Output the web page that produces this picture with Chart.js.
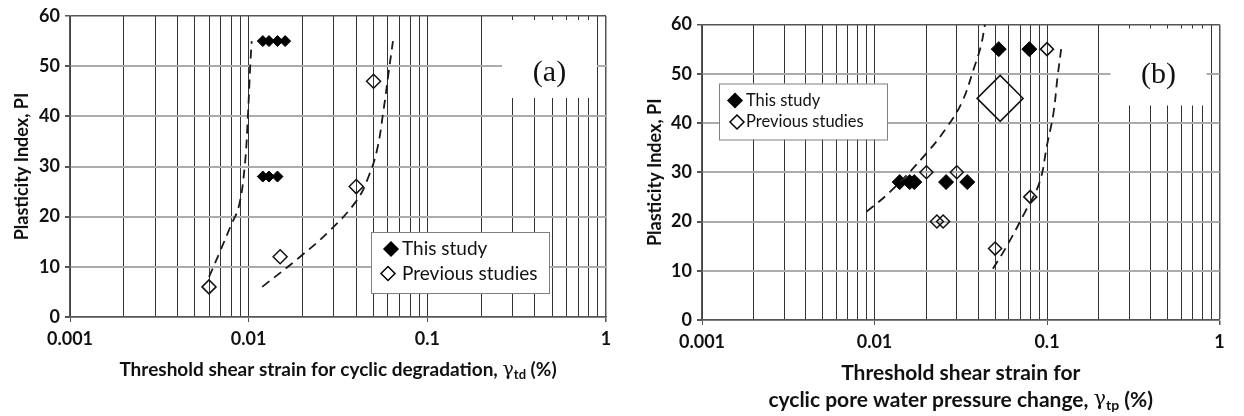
<!DOCTYPE html>
<html>
<head>
<meta charset="utf-8">
<script src="https://cdn.jsdelivr.net/npm/chart.js@4.4.0/dist/chart.umd.min.js"></script>
<style>
  body { margin: 0; background: #fff; width: 1244px; height: 416px; position: relative; overflow: hidden; }
  .panel { position: absolute; top: 0; height: 416px; }
  #pa { left: 0; width: 620px; }
  #pb { left: 620px; width: 624px; }
</style>
</head>
<body>
<div class="panel" id="pa"><canvas id="chartA" width="620" height="416"></canvas></div>
<div class="panel" id="pb"><canvas id="chartB" width="624" height="416"></canvas></div>
<script>
// axis ticks
const xTickLabels = ['0.001', '0.01', '0.1', '1'];
const xDecades = [0.001, 0.01, 0.1];
const xSteps = [1, 2, 3, 4, 5, 6, 7, 8, 9];
const yTicks = [0, 10, 20, 30, 40, 50, 60];

// (a) cyclic degradation
const thisA_x = [0.012, 0.013, 0.0145, 0.016, 0.012, 0.013, 0.0145];
const thisA_y = [55, 55, 55, 55, 28, 28, 28];
const prevA_x = [0.006, 0.015, 0.04, 0.05];
const prevA_y = [6, 12, 26, 47];
const curveA1_x = [0.006, 0.0069, 0.0079, 0.0088, 0.0095, 0.0099, 0.0102, 0.0104];
const curveA1_y = [8, 13, 18, 22, 30, 40, 50, 55];
const curveA2_x = [0.0119, 0.0194, 0.0286, 0.0404, 0.0469, 0.0523, 0.0569, 0.0607, 0.0642];
const curveA2_y = [6, 12, 17.3, 23.3, 28, 33.3, 41.3, 48.7, 55];

// (b) pore water pressure change
const thisB_x = [0.014, 0.016, 0.017, 0.026, 0.0345, 0.0525, 0.079];
const thisB_y = [28, 28, 28, 28, 28, 55, 55];
const prevB_x = [0.02, 0.03, 0.023, 0.025, 0.1, 0.08, 0.05];
const prevB_y = [30, 30, 20, 20, 55, 25, 14.5];
const bigB_x = [0.0535];
const bigB_y = [45];
const curveB1_x = [0.009, 0.0123, 0.0202, 0.0267, 0.0324, 0.0376, 0.0413, 0.0437];
const curveB1_y = [22, 26, 34, 39.5, 44.5, 51, 55.5, 60];
const curveB2_x = [0.0486, 0.0578, 0.0748, 0.0906, 0.1, 0.109, 0.1148, 0.1208];
const curveB2_y = [10.4, 14.7, 22, 28, 35.5, 42, 49, 55];

const legendNames = ['This study', 'Previous studies'];

const xGrid = [];
xDecades.forEach(d => xSteps.forEach(m => xGrid.push(Number((d * m).toPrecision(3)))));
xGrid.push(1);

function pts(xs, ys) {
  return xs.map((x, i) => ({ x: x, y: ys[i] }));
}

function diamond(ctx, x, y, r, filled) {
  ctx.beginPath();
  ctx.moveTo(x - r, y);
  ctx.lineTo(x, y - r);
  ctx.lineTo(x + r, y);
  ctx.lineTo(x, y + r);
  ctx.closePath();
  if (filled) { ctx.fillStyle = '#000'; ctx.fill(); }
  ctx.strokeStyle = '#000';
  ctx.lineWidth = 1.5;
  ctx.stroke();
}

function dashed(data) {
  return {
    data: data, showLine: true, borderColor: '#1a1a1a', borderWidth: 1.8,
    borderDash: [9, 6], pointRadius: 0, tension: 0.4, fill: false
  };
}

function buildChart(id, o) {
  const overlay = {
    id: 'overlay',
    beforeDatasetsDraw(chart) {
      const ctx = chart.ctx, a = chart.chartArea;
      ctx.save();
      // white tag box with (a)/(b)
      const tx = a.right - o.tag.right - o.tag.w;
      const ty = a.top + o.tag.top;
      ctx.fillStyle = '#fff';
      ctx.fillRect(tx, ty, o.tag.w, o.tag.h);
      ctx.fillStyle = '#111';
      ctx.font = '30px "Liberation Serif"';
      ctx.textAlign = 'center';
      ctx.textBaseline = 'middle';
      ctx.fillText(o.tag.text, tx + o.tag.w / 2, ty + o.tag.textY);
      // legend box
      const lx = a.left + o.leg.left, ly = a.top + o.leg.top;
      ctx.fillStyle = '#fff';
      ctx.fillRect(lx, ly, o.leg.w, o.leg.h);
      ctx.strokeStyle = '#808080';
      ctx.lineWidth = 1;
      ctx.strokeRect(lx + 0.5, ly + 0.5, o.leg.w, o.leg.h);
      diamond(ctx, lx + o.leg.mark1, ly + o.leg.row1, o.leg.r, true);
      diamond(ctx, lx + o.leg.mark2, ly + o.leg.row2, o.leg.r, false);
      ctx.fillStyle = '#111';
      ctx.font = o.leg.font;
      ctx.textAlign = 'left';
      ctx.textBaseline = 'middle';
      ctx.fillText(legendNames[0], lx + o.leg.text, ly + o.leg.row1);
      ctx.fillText(legendNames[1], lx + o.leg.text, ly + o.leg.row2);
      ctx.restore();
    },
    afterDraw(chart) {
      const ctx = chart.ctx, a = chart.chartArea;
      const cx = (a.left + a.right) / 2;
      ctx.save();
      ctx.fillStyle = '#111';
      ctx.textBaseline = 'middle';
      ctx.textAlign = 'left';
      o.xTitle.forEach((line, i) => {
        const y = a.bottom + o.xTitleY[i];
        const mainFont = 'bold ' + o.xTitleSize + 'px Lato';
        const greekFont = o.xTitleSize + 'px "DejaVu Serif"';
        const subFont = 'bold ' + Math.round(o.xTitleSize * 0.68) + 'px Lato';
        const parts = [
          [line.pre || '', mainFont, 0],
          [line.greek || '', greekFont, 0],
          [line.sub || '', subFont, 5],
          [line.post || '', mainFont, 0]
        ];
        let w = 0;
        parts.forEach(p => { ctx.font = p[1]; w += ctx.measureText(p[0]).width; });
        let x = cx - w / 2;
        parts.forEach(p => {
          ctx.font = p[1];
          ctx.fillText(p[0], x, y + p[2]);
          x += ctx.measureText(p[0]).width;
        });
      });
      ctx.restore();
    }
  };

  return new Chart(document.getElementById(id), {
    type: 'scatter',
    data: {
      datasets: [
        dashed(pts(o.c1x, o.c1y)),
        dashed(pts(o.c2x, o.c2y)),
        {
          data: pts(o.tx, o.ty), pointStyle: 'rectRot', pointRadius: o.thisR,
          backgroundColor: '#000', borderColor: '#000', borderWidth: 1
        },
        {
          data: pts(o.px, o.py), pointStyle: 'rectRot', pointRadius: o.prevR,
          backgroundColor: 'rgba(0,0,0,0)', borderColor: '#111', borderWidth: 1.5
        },
        {
          data: o.bx ? pts(o.bx, o.by) : [], pointStyle: 'rectRot', pointRadius: 23,
          backgroundColor: 'rgba(0,0,0,0)', borderColor: '#111', borderWidth: 1.5
        }
      ]
    },
    options: {
      responsive: false,
      animation: false,
      layout: { padding: o.pad },
      plugins: { legend: { display: false }, tooltip: { enabled: false } },
      scales: {
        x: {
          type: 'logarithmic', min: 0.001, max: 1,
          afterBuildTicks: s => { s.ticks = xGrid.map(v => ({ value: v })); },
          afterFit: s => { s.height = o.xH; },
          ticks: {
            autoSkip: false, maxRotation: 0, minRotation: 0, padding: 6, color: '#111',
            font: { family: 'Lato', weight: 'bold', size: 18 },
            callback: v => xTickLabels.includes(String(v)) ? String(v) : ''
          },
          grid: {
            color: c => c.tick && c.tick.value === 1 ? '#555' : '#333',
            lineWidth: c => c.tick && c.tick.value === 1 ? 1.5 : 1,
            tickLength: 5,
            tickColor: c => c.tick && xTickLabels.includes(String(c.tick.value)) ? '#555' : 'rgba(0,0,0,0)'
          },
          border: { color: '#555', width: 1.5 }
        },
        y: {
          min: 0, max: 60,
          afterBuildTicks: s => { s.ticks = yTicks.map(v => ({ value: v })); },
          afterFit: s => { s.width = o.yW; },
          ticks: {
            padding: 5, color: '#111',
            font: { family: 'Lato', weight: 'bold', size: 18 }
          },
          grid: {
            color: c => c.tick && c.tick.value === 60 ? '#555' : '#acacac',
            lineWidth: c => c.tick && c.tick.value === 60 ? 1.5 : 2,
            tickLength: 5,
            tickColor: '#555'
          },
          border: { color: '#555', width: 1.5 },
          title: {
            display: true, text: 'Plasticity Index, PI', color: '#111',
            font: { family: 'Lato', weight: 'bold', size: 18 },
            padding: { top: o.yTitlePad, bottom: 0 }
          }
        }
      }
    },
    plugins: [overlay]
  });
}

buildChart('chartA', {
  tx: thisA_x, ty: thisA_y, px: prevA_x, py: prevA_y,
  c1x: curveA1_x, c1y: curveA1_y, c2x: curveA2_x, c2y: curveA2_y,
  thisR: 5.5, prevR: 7,
  pad: { top: 16, right: 14, left: 0, bottom: 0 }, xH: 99, yW: 70, yTitlePad: 11,
  tag: { text: '(a)', right: 9, w: 95, top: 4, h: 78, textY: 53 },
  leg: { left: 301, top: 216, w: 178, h: 61, r: 7, mark1: 20, mark2: 17, row1: 17, row2: 41.5, text: 31, font: '19px Lato' },
  xTitle: [{ pre: 'Threshold shear strain for cyclic degradation, ', greek: 'γ', sub: 'td', post: ' (%)' }],
  xTitleY: [53], xTitleSize: 19
});

buildChart('chartB', {
  tx: thisB_x, ty: thisB_y, px: prevB_x, py: prevB_y, bx: bigB_x, by: bigB_y,
  c1x: curveB1_x, c1y: curveB1_y, c2x: curveB2_x, c2y: curveB2_y,
  thisR: 7.5, prevR: 6.5,
  pad: { top: 21, right: 6, left: 0, bottom: 0 }, xH: 96, yW: 82, yTitlePad: 24,
  tag: { text: '(b)', right: 13, w: 96, top: 4, h: 77, textY: 47 },
  leg: { left: 17, top: 59, w: 168, h: 56, r: 7, mark1: 16, mark2: 18, row1: 17, row2: 38.5, text: 27, font: '16.5px Lato' },
  xTitle: [{ pre: 'Threshold shear strain for' },
           { pre: 'cyclic pore water pressure change, ', greek: 'γ', sub: 'tp', post: ' (%)' }],
  xTitleY: [53, 80], xTitleSize: 21
});
</script>
</body>
</html>
